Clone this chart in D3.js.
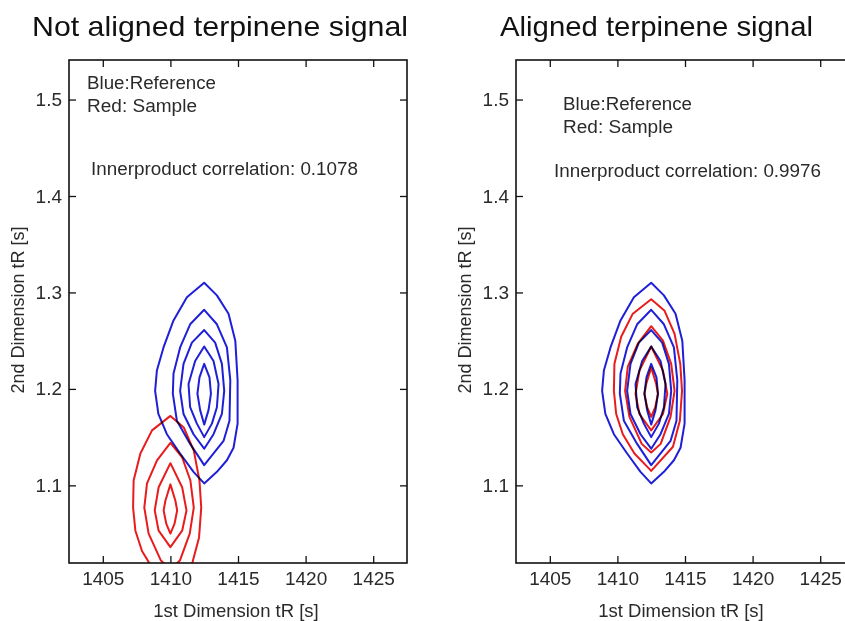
<!DOCTYPE html>
<html>
<head>
<meta charset="utf-8">
<script src="https://cdn.jsdelivr.net/npm/d3@7"></script>
<style>
  body { margin: 0; background: #fff; }
  svg { display: block; font-family: "Liberation Sans", Arial, sans-serif; }
  .contour { fill: none; stroke-width: 2; stroke-linejoin: round; mix-blend-mode: multiply; }
</style>
</head>
<body>
<svg id="chart" width="845" height="621"></svg>
<script>
// --- données ----------------------------------------------------------------
const titres = ["Not aligned terpinene signal", "Aligned terpinene signal"];
const correlations = ["0.1078", "0.9976"];
const legendeLignes = ["Blue:Reference", "Red: Sample"];
const xTicks = [1405, 1410, 1415, 1420, 1425];
const yTicks = [1.1, 1.2, 1.3, 1.4, 1.5];
const xLabel = "1st Dimension tR [s]";
const yLabel = "2nd Dimension tR [s]";

// contours du signal de référence (bleu), de l'extérieur vers l'intérieur
const referenceContours = [
  [[1412.5, 1.310], [1413.44, 1.297], [1414.30, 1.278], [1414.80, 1.250], [1414.97, 1.209],
   [1414.97, 1.164], [1414.67, 1.139], [1414.18, 1.126], [1413.44, 1.114], [1412.5, 1.102],
   [1411.71, 1.114], [1410.72, 1.133], [1409.74, 1.153], [1409.11, 1.174], [1408.87, 1.198],
   [1409.00, 1.219], [1409.49, 1.243], [1410.23, 1.271], [1411.22, 1.295]],
  [[1412.5, 1.282], [1413.44, 1.267], [1414.18, 1.243], [1414.43, 1.209], [1414.37, 1.167],
   [1413.93, 1.146], [1412.5, 1.121], [1411.46, 1.143], [1410.48, 1.167], [1410.18, 1.195],
   [1410.23, 1.216], [1410.72, 1.243], [1411.46, 1.267]],
  [[1412.5, 1.261], [1413.31, 1.248], [1413.81, 1.226], [1413.98, 1.198], [1413.81, 1.174],
   [1413.19, 1.153], [1412.5, 1.138], [1411.71, 1.153], [1410.97, 1.174], [1410.72, 1.198],
   [1410.97, 1.226], [1411.59, 1.248]],
  [[1412.5, 1.244], [1413.19, 1.229], [1413.56, 1.205], [1413.44, 1.181], [1413.07, 1.164],
   [1412.5, 1.150], [1411.96, 1.164], [1411.46, 1.181], [1411.34, 1.205], [1411.83, 1.229]],
  [[1412.5, 1.226], [1412.89, 1.212], [1413.00, 1.195], [1412.82, 1.178], [1412.5, 1.163],
   [1412.20, 1.178], [1412.00, 1.195], [1412.15, 1.212]]
];

// contours de l'échantillon (rouge), non alignés
const sampleContours = [
  [[1410, 1.172], [1410.99, 1.160], [1411.73, 1.136], [1412.15, 1.105], [1412.28, 1.077],
   [1412.12, 1.046], [1411.61, 1.019], [1410, 0.994], [1408.76, 1.012], [1407.90, 1.032],
   [1407.41, 1.053], [1407.24, 1.077], [1407.28, 1.105], [1407.78, 1.133], [1408.64, 1.157]],
  [[1410, 1.144], [1410.87, 1.129], [1411.48, 1.105], [1411.73, 1.077], [1411.43, 1.050],
   [1410.70, 1.022], [1410, 1.013], [1409.30, 1.022], [1408.39, 1.050], [1408.07, 1.077],
   [1408.27, 1.102], [1409.01, 1.126]],
  [[1410, 1.123], [1410.87, 1.098], [1411.19, 1.074], [1410.87, 1.053], [1410, 1.036],
   [1409.13, 1.053], [1408.84, 1.074], [1409.13, 1.098]],
  [[1410, 1.101], [1410.37, 1.084], [1410.50, 1.074], [1410.30, 1.060], [1410, 1.050],
   [1409.70, 1.060], [1409.50, 1.074], [1409.63, 1.084]]
];

// décalage trouvé par l'alignement (1re dim, 2e dim)
const alignement = [2.5, 0.121];

// --- mise en page -------------------------------------------------------------
const svg = d3.select("#chart");
const largeur = 338, hauteur = 503, haut = 60;
const gauches = [69, 516];

const x = d3.scaleLinear().domain([1402.5, 1427.5]).range([0, largeur]);
const y = d3.scaleLinear().domain([1.0195, 1.541]).range([hauteur, 0]);
const ligne = d3.line().x(d => x(d[0])).y(d => y(d[1])).curve(d3.curveLinearClosed);

svg.append("defs").append("clipPath").attr("id", "cadre")
  .append("rect").attr("width", largeur).attr("height", hauteur);

// petite aide pour les textes (le fichier d'origine est un peu étiré en largeur)
const texte = (sel, t, taille, longueur) => {
  const el = sel.append("text")
    .style("font-size", taille + "px")
    .style("fill", "#2a2a2a")
    .text(t);
  if (longueur) el.attr("textLength", longueur).attr("lengthAdjust", "spacingAndGlyphs");
  return el;
};

gauches.forEach((gauche, i) => {
  const g = svg.append("g").attr("transform", `translate(${gauche},${haut})`);

  // titre
  texte(svg, titres[i], 28, i == 0 ? 376 : 313)
    .attr("x", i == 0 ? 32 : 500)
    .attr("y", 36)
    .style("fill", "#111");

  // contours
  const zone = g.append("g").attr("clip-path", "url(#cadre)");
  zone.selectAll("path.ref")
    .data(referenceContours)
    .join("path")
    .attr("class", "contour ref")
    .attr("d", ligne)
    .style("stroke", "#1f1fd8");

  const echantillon = i == 0
    ? sampleContours
    : sampleContours.map(c => c.map(p => [p[0] + alignement[0], p[1] + alignement[1]]));
  zone.selectAll("path.ech")
    .data(echantillon)
    .join("path")
    .attr("class", "contour ech")
    .attr("d", ligne)
    .style("stroke", "#e81c1c");

  // axes (ticks vers l'intérieur, style matlab)
  const bas = g.append("g").attr("transform", `translate(0,${hauteur})`)
    .call(d3.axisBottom(x).tickValues(xTicks).tickSize(-7).tickPadding(9).tickFormat(d3.format("d")));
  const dessus = g.append("g")
    .call(d3.axisTop(x).tickValues(xTicks).tickSize(-7).tickFormat(""));
  const gaucheAxe = g.append("g")
    .call(d3.axisLeft(y).tickValues(yTicks).tickSize(-7).tickPadding(7).tickFormat(d3.format(".1f")));
  const droite = g.append("g").attr("transform", `translate(${largeur},0)`)
    .call(d3.axisRight(y).tickValues(yTicks).tickSize(-7).tickFormat(""));

  [bas, dessus, gaucheAxe, droite].forEach(a => {
    a.select(".domain").remove();
    a.selectAll(".tick line").style("stroke", "#111").style("stroke-width", 1.3);
    a.selectAll(".tick text")
      .style("font-size", "19px")
      .style("fill", "#2a2a2a")
      .style("font-family", "Liberation Sans, Arial, sans-serif");
  });

  // cadre
  g.append("rect")
    .attr("width", largeur).attr("height", hauteur)
    .style("fill", "none").style("stroke", "#111").style("stroke-width", 1.6);

  // titres des axes
  texte(g, xLabel, 18.5)
    .attr("x", largeur / 2 - 2 - (i == 0 ? 0 : 2))
    .attr("y", 557)
    .attr("text-anchor", "middle");
  texte(g, yLabel, 18)
    .attr("transform", `translate(-45,250) rotate(-90)`)
    .attr("text-anchor", "middle");

  // légende et corrélation
  const lx = i == 0 ? 18 : 47, ly = i == 0 ? 29 : 50;
  legendeLignes.forEach((t, k) => {
    texte(g, t, 17.5, k == 0 ? 129 : 110)
      .attr("x", lx).attr("y", ly + k * 22.5);
  });
  texte(g, "Innerproduct correlation: " + correlations[i], 17.5, 267)
    .attr("x", i == 0 ? 22 : 38).attr("y", i == 0 ? 115 : 117);
});
</script>
</body>
</html>
